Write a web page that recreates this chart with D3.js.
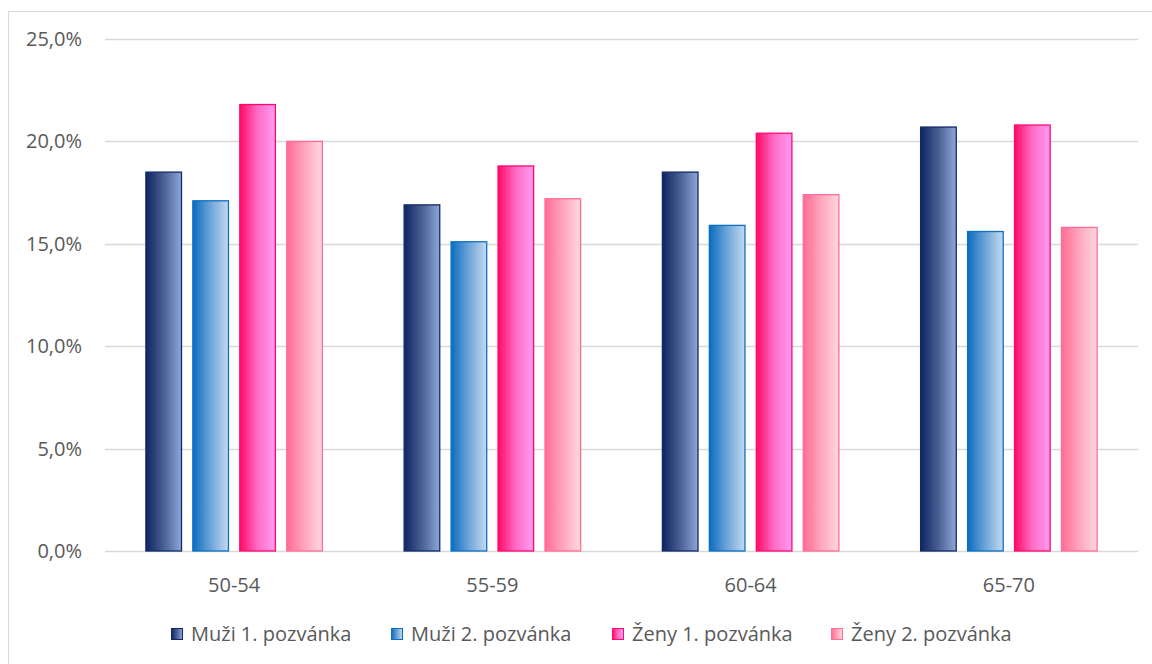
<!DOCTYPE html>
<html>
<head>
<meta charset="utf-8">
<script src="https://cdn.jsdelivr.net/npm/d3@7"></script>
<style>
  html, body { margin: 0; padding: 0; background: #fff; }
  svg { display: block; }
  text { font-family: "Open Sans", Lato, sans-serif; fill: #595959; }
</style>
</head>
<body>
<svg id="chart" width="1152" height="664"></svg>
<script>
// Age groups on the x axis
const categories = ["50-54", "55-59", "60-64", "65-70"];
// Series names (legend)
const seriesNames = ["Muži 1. pozvánka", "Muži 2. pozvánka", "Ženy 1. pozvánka", "Ženy 2. pozvánka"];
// Values per series, in percent, one per age group
const muzi1 = [18.5, 16.9, 18.5, 20.7];
const muzi2 = [17.1, 15.1, 15.9, 15.6];
const zeny1 = [21.8, 18.8, 20.4, 20.8];
const zeny2 = [20.0, 17.2, 17.4, 15.8];
const seriesValues = [muzi1, muzi2, zeny1, zeny2];
// Y axis ticks
const yTicks = [0, 5, 10, 15, 20, 25];

// Per-series gradient (left -> right) and outline colours
const palettes = [
  { stops: ["#0f2563", "#4a5f93", "#8ea7d8"], stroke: "#112a66" },
  { stops: ["#0b6cbf", "#6ea4d8", "#c3daef"], stroke: "#0c70c2" },
  { stops: ["#ff0a63", "#ff6cc8", "#ff9cf0"], stroke: "#ff0a6a" },
  { stops: ["#ff6a94", "#ffa6bb", "#ffd8de"], stroke: "#ff6d98" }
];

const svg = d3.select("#chart");
const margin = { left: 105, right: 1138, top: 39, bottom: 551 };
const fontSize = 20;

// Chart frame
svg.append("rect")
  .attr("x", 8.5).attr("y", 11.5)
  .attr("width", 1160).attr("height", 670)
  .attr("fill", "none").attr("stroke", "#d9d9d9").attr("stroke-width", 1);

const defs = svg.append("defs");
palettes.forEach((p, i) => {
  const g = defs.append("linearGradient")
    .attr("id", "grad" + i)
    .attr("x1", "0%").attr("y1", "0%").attr("x2", "100%").attr("y2", "0%");
  p.stops.forEach((c, k) => {
    g.append("stop").attr("offset", (k / (p.stops.length - 1) * 100) + "%").attr("stop-color", c);
  });
});

const x = d3.scaleBand().domain(categories).range([margin.left, margin.right]).paddingInner(0).paddingOuter(0);
const xs = d3.scaleBand().domain(d3.range(seriesNames.length)).range([0, x.bandwidth()]).paddingInner(0.22).paddingOuter(0.86);
const y = d3.scaleLinear().domain([0, 25]).range([margin.bottom, margin.top]);

// Gridlines
svg.append("g").selectAll("line").data(yTicks).join("line")
  .attr("x1", margin.left).attr("x2", margin.right)
  .attr("y1", d => Math.round(y(d)) + 0.5).attr("y2", d => Math.round(y(d)) + 0.5)
  .attr("stroke", "#d9d9d9").attr("stroke-width", 1.3);

// Y axis labels
const fmt = v => v.toFixed(1).replace(".", ",") + "%";
svg.append("g").selectAll("text").data(yTicks).join("text")
  .attr("x", 82).attr("y", d => y(d))
  .attr("dy", "0.35em")
  .attr("text-anchor", "end")
  .attr("font-size", fontSize)
  .text(fmt);

// Bars
const groups = svg.append("g").selectAll("g").data(categories).join("g")
  .attr("transform", c => `translate(${x(c)},0)`);
groups.selectAll("rect")
  .data((c, ci) => seriesValues.map((vals, si) => ({ si, v: vals[ci] })))
  .join("rect")
  .attr("x", d => xs(d.si) + 0.5)
  .attr("y", d => y(d.v))
  .attr("width", xs.bandwidth() - 1)
  .attr("height", d => y(0) - y(d.v))
  .attr("fill", d => `url(#grad${d.si})`)
  .attr("stroke", d => palettes[d.si].stroke)
  .attr("stroke-width", 1.3);

// X axis labels
svg.append("g").selectAll("text").data(categories).join("text")
  .attr("x", c => x(c) + x.bandwidth() / 2)
  .attr("y", 585)
  .attr("dy", "0.35em")
  .attr("text-anchor", "middle")
  .attr("font-size", fontSize)
  .text(c => c);

// Legend
const legendX = [171, 391, 612, 831];
const legend = svg.append("g").selectAll("g").data(seriesNames).join("g")
  .attr("transform", (d, i) => `translate(${legendX[i]},634)`);
legend.append("rect")
  .attr("x", 0.5).attr("y", -5.5)
  .attr("width", 11).attr("height", 11)
  .attr("fill", (d, i) => `url(#grad${i})`)
  .attr("stroke", (d, i) => palettes[i].stroke)
  .attr("stroke-width", 1);
legend.append("text")
  .attr("x", 20).attr("y", 0)
  .attr("dy", "0.35em")
  .attr("font-size", fontSize)
  .text(d => d);
</script>
</body>
</html>
